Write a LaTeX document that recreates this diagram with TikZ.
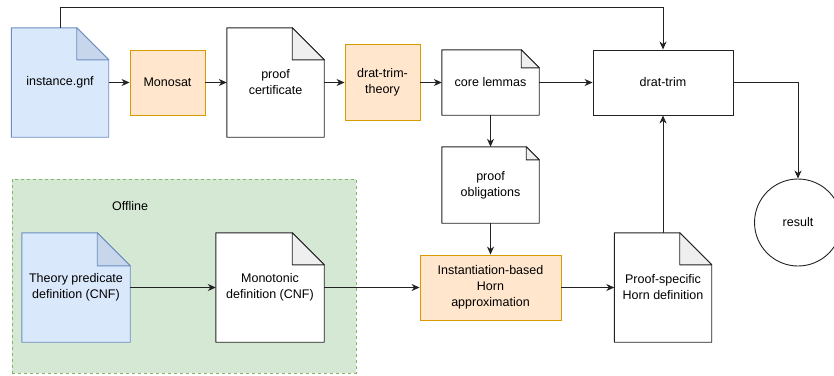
\documentclass[tikz,border=0pt]{standalone}
\usepackage{fontspec}
\setmainfont{Liberation Sans}
\usetikzlibrary{arrows.meta,backgrounds,calc,positioning}

\definecolor{blueFill}{HTML}{DAE8FC}
\definecolor{blueLine}{HTML}{6C8EBF}
\definecolor{blueFold}{HTML}{C8D6EB}
\definecolor{orangeFill}{HTML}{FFE6CC}
\definecolor{orangeLine}{HTML}{D79B00}
\definecolor{greenFill}{HTML}{D5E8D4}
\definecolor{greenLine}{HTML}{82B366}
\definecolor{grayFold}{HTML}{EFEFEF}
\definecolor{lineGray}{HTML}{222222}

\begin{document}
\begin{tikzpicture}[x=1pt,y=-1pt,
	every node/.style={font=\fontsize{12.5}{16}\selectfont, align=center, inner sep=0pt},
	doc/.style={rectangle, minimum width=97, minimum height=109},
	tool/.style={rectangle, draw=orangeLine, fill=orangeFill, line width=0.9pt, minimum height=65},
	box/.style={rectangle, draw=lineGray, fill=white, line width=0.9pt, minimum height=65},
	group/.style={rectangle, draw=greenLine, fill=greenFill, dashed, line width=0.8pt},
	flow/.style={draw=lineGray, line width=0.9pt, -{Stealth[length=8pt,width=7pt,inset=2.5pt]}}
]
	\useasboundingbox (0,0) rectangle (834,375);

	% top row
	\node[doc]							(inst)		at (60,82.5)	{instance.gnf};
	\node[tool, minimum width=75]		(monosat)	at (167.5,82.5)	{Monosat};
	\node[doc]							(cert)		at (275.5,82.5)	{proof\\certificate};
	\node[tool, minimum width=75, minimum height=76]
										(dtt)		at (382.5,82.5)	{drat-trim-\\theory};
	\node[doc, minimum height=65]		(core)		at (490.5,82.5)	{core lemmas};
	\node[box, minimum width=140]		(dt)		at (663,82.5)	{drat-trim};
	\node[circle, draw=lineGray, line width=0.9pt, minimum size=87]
										(result)	at (798,222.5)	{result};

	% lower row
	\node[doc, minimum height=76]		(oblig)		at (490.5,185)	{proof\\obligations};
	\node[tool, minimum width=141]		(ihorn)		at (490.5,287.5){Instantiation-based\\Horn\\approximation};
	\node[doc]							(pshorn)	at (663,287.5)	{Proof-specific\\Horn definition};
	\node[doc, minimum width=108]		(tpred)		at (76,287.5)	{Theory predicate\\definition (CNF)};
	\node[doc, minimum width=108]		(mono)		at (270,287.5)	{Monotonic\\definition (CNF)};
	\node								(offlbl)	at (130,206)	{Offline};

	\begin{pgfonlayer}{background}
		\node[group, minimum width=344, minimum height=194] (offline) at (184,276) {};
		\foreach \n/\f/\fc/\dc/\fd in {inst/32/blueFill/blueLine/blueFold,
				cert/32/white/lineGray/grayFold, core/18/white/lineGray/grayFold,
				oblig/13/white/lineGray/grayFold, pshorn/32/white/lineGray/grayFold,
				tpred/33/blueFill/blueLine/blueFold, mono/32/white/lineGray/grayFold}
		{
			\filldraw[fill=\fc, draw=\dc, line width=0.9pt, line join=round]
				(\n.north west) -- ($(\n.north east)+(-\f,0)$) -- ($(\n.north east)+(0,\f)$)
				-- (\n.south east) -- (\n.south west) -- cycle;
			\filldraw[fill=\fd, draw=\dc, line width=0.9pt, line join=round]
				($(\n.north east)+(-\f,0)$) -- ($(\n.north east)+(-\f,\f)$) -- ($(\n.north east)+(0,\f)$) -- cycle;
		}
	\end{pgfonlayer}

	\coordinate (top) at (0,7);

	\draw[flow] (inst) -- (monosat);
	\draw[flow] (monosat) -- (cert);
	\draw[flow] (cert) -- (dtt);
	\draw[flow] (dtt) -- (core);
	\draw[flow] (core) -- (dt);
	\draw[flow] (inst.north) -- (inst.north |- top) -| (dt.north);
	\draw[flow] (dt.east) -| (result.north);
	\draw[flow] (core) -- (oblig);
	\draw[flow] (oblig) -- (ihorn);
	\draw[flow] (tpred) -- (mono);
	\draw[flow] (mono) -- (ihorn);
	\draw[flow] (ihorn) -- (pshorn);
	\draw[flow] (pshorn) -- (dt);
\end{tikzpicture}
\end{document}
